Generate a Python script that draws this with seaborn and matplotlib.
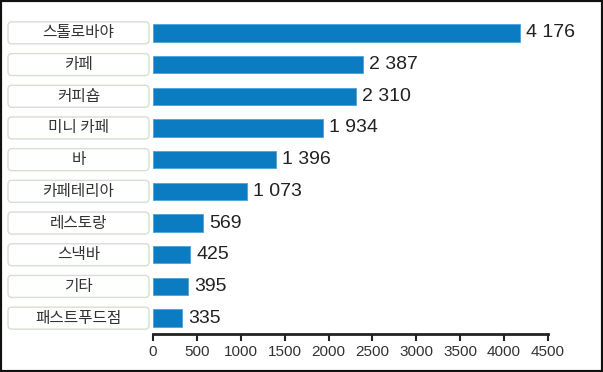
import numpy as np
import pandas as pd
import seaborn as sns
import matplotlib.pyplot as plt
from matplotlib.patches import FancyBboxPatch, Rectangle

# data
categories = ['스톨로바야', '카페', '커피숍', '미니 카페', '바', '카페테리아',
              '레스토랑', '스낵바', '기타', '패스트푸드점']
values = [4176, 2387, 2310, 1934, 1396, 1073, 569, 425, 395, 335]
x_ticks = [0, 500, 1000, 1500, 2000, 2500, 3000, 3500, 4000, 4500]

df = pd.DataFrame({'type': categories, 'count': values})

sns.set_style('white')
plt.rcParams['font.family'] = ['Liberation Sans', 'Noto Sans CJK KR', 'DejaVu Sans']

W, H = 603, 372
fig = plt.figure(figsize=(W / 100, H / 100), dpi=100)
ax = fig.add_axes([153 / W, 38 / H, 395 / W, 317 / H])

sns.barplot(data=df, x='count', y='type', orient='h', color='#0b7cc1',
            width=0.55, edgecolor='#4aa3db', linewidth=0.6, saturation=1, ax=ax)

ax.set_xlim(0, 4500)
ax.set_xticks(x_ticks)
ax.set_xticklabels([str(t) for t in x_ticks], fontsize=11, color='#333333')
ax.set_yticks([])
ax.set_xlabel('')
ax.set_ylabel('')
for s in ['top', 'right', 'left']:
    ax.spines[s].set_visible(False)
ax.spines['bottom'].set_linewidth(2)
ax.spines['bottom'].set_color('#222222')
ax.tick_params(axis='x', bottom=True, direction='out', length=5, width=1.5,
               color='#222222', pad=3)

# value labels
for i, v in enumerate(values):
    ax.text(v + 70, i, f"{v:,}".replace(',', ' '), va='center', ha='left',
            fontsize=14, color='#222222')

# rounded label boxes on the left
r = 4
for i, c in enumerate(categories):
    yc = ax.transData.transform((0, i))[1]
    x0, x1 = 8, 149
    h = 22
    box = FancyBboxPatch((x0 / W, (yc - h / 2) / H), (x1 - x0) / W, h / H,
                         boxstyle=f"round,pad=0,rounding_size={r / W}",
                         mutation_aspect=W / H, transform=fig.transFigure,
                         facecolor='white', edgecolor='#d5e0cf', linewidth=1)
    fig.patches.append(box)
    fig.text((x0 + x1) / 2 / W, yc / H, c, ha='center', va='center',
             fontsize=11.3, color='#333333', family=['Noto Sans CJK KR', 'DejaVu Sans'])

# outer frame
fig.patches.append(Rectangle((0, 0), 1, 1, transform=fig.transFigure,
                             fill=False, edgecolor='#111111', linewidth=3))

fig.savefig('out.png', dpi=100)
